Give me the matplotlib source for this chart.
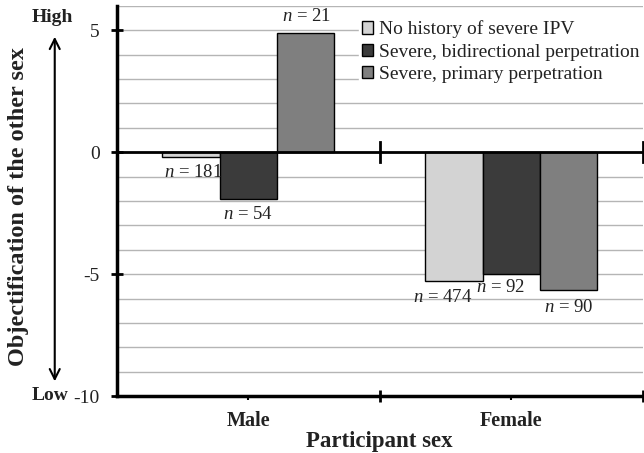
import numpy as np
from matplotlib import pyplot as plt

plt.rcParams['font.family'] = 'Liberation Serif'
plt.rcParams['mathtext.fontset'] = 'custom'
plt.rcParams['mathtext.it'] = 'Liberation Serif:italic'
plt.rcParams['mathtext.rm'] = 'Liberation Serif'

sexes = ["Male", "Female"]
groups = ["No history of severe IPV", "Severe, bidirectional perpetration",
          "Severe, primary perpetration"]
means = {
    "No history of severe IPV": [-0.2, -5.3],
    "Severe, bidirectional perpetration": [-1.9, -5.0],
    "Severe, primary perpetration": [4.9, -5.65],
}
ns = {
    "No history of severe IPV": [181, 474],
    "Severe, bidirectional perpetration": [54, 92],
    "Severe, primary perpetration": [21, 90],
}
colors = ["#d3d3d3", "#3b3b3b", "#7f7f7f"]

fig = plt.figure(figsize=(6.44, 4.53), dpi=100)
ax = fig.add_axes([0.1817, 0.1258, 0.816, 0.861])

x = np.arange(len(sexes))
w = 0.218

for i, g in enumerate(groups):
    ax.bar(x + (i - 1) * w, means[g], w, color=colors[i], edgecolor='black',
           linewidth=1, label=g, zorder=3)

# n labels (offsets in data units tuned per bar)
label_pos = {
    ("No history of severe IPV", 0): (-0.21, -0.85),
    ("Severe, bidirectional perpetration", 0): (0.0, -2.55),
    ("Severe, primary perpetration", 0): (0.22, 5.55),
    ("No history of severe IPV", 1): (-0.26, -5.95),
    ("Severe, bidirectional perpetration", 1): (-0.04, -5.55),
    ("Severe, primary perpetration", 1): (0.22, -6.35),
}
for i, g in enumerate(groups):
    for j in range(len(sexes)):
        dx, yy = label_pos[(g, j)]
        ax.text(x[j] + dx, yy, r"$n$ = %d" % ns[g][j], ha='center', va='center',
                fontsize=13.5, color='#222222', zorder=4)

ax.set_xlim(-0.5, 1.5)
ax.set_ylim(-10, 6)
ax.set_yticks([-10, -5, 0, 5])
ax.set_yticklabels(["-10", "-5", "0", "5"], fontsize=14, color='#222222')
ax.set_yticks(np.arange(-10, 7, 1), minor=True)
ax.yaxis.grid(True, which='both', color='#b5b5b5', linewidth=1, zorder=0)
ax.tick_params(axis='y', which='major', direction='inout', length=9, width=2, pad=8)
ax.tick_params(axis='y', which='minor', length=0)

ax.set_xticks(x)
ax.set_xticklabels(sexes, fontsize=14.5, fontweight='bold', color='#222222')
ax.set_xticks([0.5, 1.5], minor=True)
ax.tick_params(axis='x', which='major', length=3, width=1.5, pad=8)
ax.tick_params(axis='x', which='minor', direction='inout', length=9, width=2)
ax.set_xlabel("Participant sex", fontsize=16.5, fontweight='bold', labelpad=0,
              color='#222222')

ax.axhline(0, color='black', linewidth=2, zorder=5)
for xb in [0.5, 1.5]:
    ax.plot([xb, xb], [-0.4, 0.4], color='black', linewidth=2, zorder=5, clip_on=False)

for s in ['top', 'right']:
    ax.spines[s].set_visible(False)
ax.spines['left'].set_linewidth(2.5)
ax.spines['bottom'].set_linewidth(2.5)

ax.set_ylabel("Objectification of the other sex", fontsize=17.5,
              fontweight='bold', color='#222222')
ax.yaxis.set_label_coords(-0.168, 0.485)

leg = ax.legend(loc='upper right', bbox_to_anchor=(1.0, 0.97), fontsize=14,
                frameon=True, fancybox=False, edgecolor='white', framealpha=1,
                handlelength=0.6, handleheight=0.6, handletextpad=0.3,
                borderpad=0.15, labelspacing=0.27, borderaxespad=0)
leg.set_zorder(6)
for t in leg.get_texts():
    t.set_color('#222222')

# High/Low double arrow
fig.text(0.082, 0.962, "High", fontsize=14, fontweight='bold', ha='center',
         va='center', color='#222222')
fig.text(0.107, 0.126, "Low", fontsize=14, fontweight='bold', ha='right',
         va='center', color='#222222')
ax.annotate("", xy=(0.085, 0.152), xytext=(0.085, 0.925), xycoords='figure fraction',
            arrowprops=dict(arrowstyle='<->', lw=1.5, color='black',
                            mutation_scale=18))

fig.savefig("out.png", dpi=100)
